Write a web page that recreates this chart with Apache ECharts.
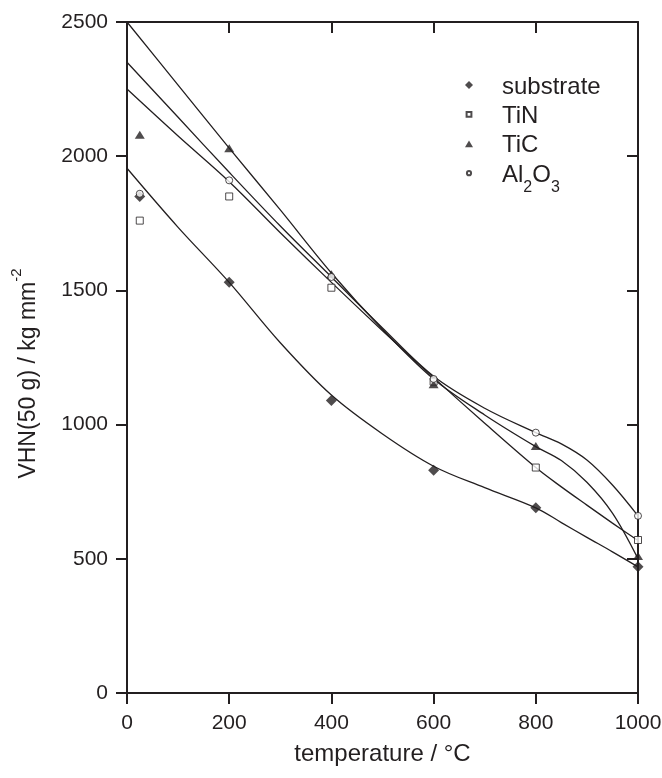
<!DOCTYPE html>
<html>
<head>
<meta charset="utf-8">
<script src="https://cdn.jsdelivr.net/npm/echarts@6/dist/echarts.min.js"></script>
<style>
html,body{margin:0;padding:0;background:#fff;}
#chart{width:662px;height:778px;}
</style>
</head>
<body>
<div id="chart"></div>
<script>
// measured temperatures (°C)
var temps = [25, 200, 400, 600, 800, 1000];
// measured hardness values
var substrate = [1850, 1530, 1090, 830, 690, 470];
var tin = [1760, 1850, 1510, 1160, 840, 570];
var tic = [2080, 2030, 1560, 1150, 920, 510];
var al2o3 = [1860, 1910, 1550, 1170, 970, 660];

// fitted curves
var fitT = [0, 100, 200, 300, 400, 500, 600, 700, 800, 850, 900, 950, 1000];
var fitSubstrate = [1955, 1735, 1530, 1305, 1110, 965, 845, 765, 690, 635, 580, 526, 470];
var fitTiN = [2250, 2075, 1905, 1715, 1530, 1350, 1175, 1005, 840, 768, 700, 633, 568];
var fitTiC = [2500, 2265, 2030, 1800, 1565, 1355, 1170, 1036, 918, 866, 785, 670, 500];
var fitAl2O3 = [2350, 2145, 1940, 1740, 1550, 1360, 1180, 1061, 970, 928, 868, 775, 660];

var xTicks = [0, 200, 400, 600, 800, 1000];
var yTicks = [0, 500, 1000, 1500, 2000, 2500];

function pairs(xs, ys) { return xs.map(function (x, i) { return [x, ys[i]]; }); }

var INK = '#231f20';
var FONT = '"Liberation Sans", Arial, Helvetica, sans-serif';

var chart = echarts.init(document.getElementById('chart'), null, {renderer: 'canvas'});

function fitSeries(name, ys) {
  return {
    name: name, type: 'line', data: pairs(fitT, ys), smooth: 0.35,
    symbol: 'none', lineStyle: {color: INK, width: 1.3}, z: 2, silent: true
  };
}

var option = {
  backgroundColor: '#fff',
  animation: false,
  textStyle: {fontFamily: FONT, color: INK},
  grid: {left: 127, right: 24, top: 22, bottom: 85, outerBoundsMode: 'none', containLabel: false},
  legend: {
    orient: 'vertical', left: 459, top: 68, itemGap: -8.6,
    itemWidth: 8, itemHeight: 8,
    data: [
      {name: 'substrate', icon: 'diamond'},
      {name: 'TiN', icon: 'path://M0,0M10,10M2,2L8,2L8,8L2,8Z'},
      {name: 'TiC', icon: 'path://M0,1M10,9M5,0.5L10,9L0,9Z'},
      {name: 'Al2O3', icon: 'path://M0,0M10,10M7.6,5A2.6,2.6,0,1,1,2.4,5A2.6,2.6,0,1,1,7.6,5Z'}
    ],
    formatter: function (name) {
      if (name === 'Al2O3') return '{n|Al}{s|2}{m|O}{s|3}';
      return '{n|' + name + '}';
    },
    textStyle: {
      fontFamily: FONT, color: INK, fontSize: 24,
      rich: {
        n: {fontFamily: FONT, color: INK, fontSize: 24, lineHeight: 24, padding: [2, 0, 12, 24], verticalAlign: 'top'},
        m: {fontFamily: FONT, color: INK, fontSize: 24, lineHeight: 24, padding: [2, 0, 12, 0], verticalAlign: 'top'},
        s: {fontFamily: FONT, color: INK, fontSize: 16, lineHeight: 14, padding: [18, 0, 6, 0], verticalAlign: 'top'}
      }
    }
  },
  xAxis: [{
    type: 'value', min: 0, max: 1000, interval: 200, position: 'bottom',
    name: 'temperature / °C', nameLocation: 'middle', nameGap: 49,
    nameTextStyle: {fontFamily: FONT, fontSize: 24, color: INK},
    axisLine: {show: true, onZero: false, lineStyle: {color: INK, width: 2}},
    axisTick: {show: true, inside: false, length: 11, lineStyle: {color: INK, width: 2}},
    axisLabel: {fontFamily: FONT, fontSize: 21, color: INK, margin: 20,
      formatter: function (v) { return String(v); }},
    splitLine: {show: false}
  }, {
    type: 'value', min: 0, max: 1000, interval: 200, position: 'top',
    axisLine: {show: true, onZero: false, lineStyle: {color: INK, width: 2}},
    axisTick: {show: true, inside: true, length: 11, lineStyle: {color: INK, width: 2}},
    axisLabel: {show: false}, splitLine: {show: false}
  }],
  yAxis: [{
    type: 'value', min: 0, max: 2500, interval: 500, position: 'left',
    name: '{a|VHN(50 g) / kg mm}{s|-2}', nameLocation: 'middle', nameGap: 95, nameRotate: 90,
    nameTextStyle: {
      fontFamily: FONT, fontSize: 23, color: INK,
      rich: {
        a: {fontFamily: FONT, fontSize: 23, color: INK, lineHeight: 23, padding: [8, 0, 0, 0], verticalAlign: 'top'},
        s: {fontFamily: FONT, fontSize: 15, color: INK, lineHeight: 15, padding: [0, 32, 0, 0], verticalAlign: 'top'}
      }
    },
    axisLine: {show: true, onZero: false, lineStyle: {color: INK, width: 2}},
    axisTick: {show: true, inside: false, length: 11, lineStyle: {color: INK, width: 2}},
    axisLabel: {fontFamily: FONT, fontSize: 21, color: INK, margin: 19,
      formatter: function (v) { return String(v); }},
    splitLine: {show: false}
  }, {
    type: 'value', min: 0, max: 2500, interval: 500, position: 'right',
    axisLine: {show: true, onZero: false, lineStyle: {color: INK, width: 2}},
    axisTick: {show: true, inside: true, length: 11, lineStyle: {color: INK, width: 2}},
    axisLabel: {show: false}, splitLine: {show: false}
  }],
  series: [
    fitSeries('fit substrate', fitSubstrate),
    fitSeries('fit TiN', fitTiN),
    fitSeries('fit TiC', fitTiC),
    fitSeries('fit Al2O3', fitAl2O3),
    {
      name: 'substrate', type: 'scatter', data: pairs(temps, substrate),
      symbol: 'diamond', symbolSize: [11, 11], z: 5,
      itemStyle: {color: INK}
    },
    {
      name: 'TiN', type: 'scatter', data: pairs(temps, tin),
      symbol: 'rect', symbolSize: 7, z: 5,
      itemStyle: {color: '#fff', borderColor: INK, borderWidth: 1}
    },
    {
      name: 'TiC', type: 'scatter', data: pairs(temps, tic),
      symbol: 'triangle', symbolSize: [10, 8], z: 5,
      itemStyle: {color: INK}
    },
    {
      name: 'Al2O3', type: 'scatter', data: pairs(temps, al2o3),
      symbol: 'circle', symbolSize: 7, z: 5,
      itemStyle: {color: '#fff', borderColor: INK, borderWidth: 1}
    }
  ]
};
chart.setOption(option);
</script>
</body>
</html>
